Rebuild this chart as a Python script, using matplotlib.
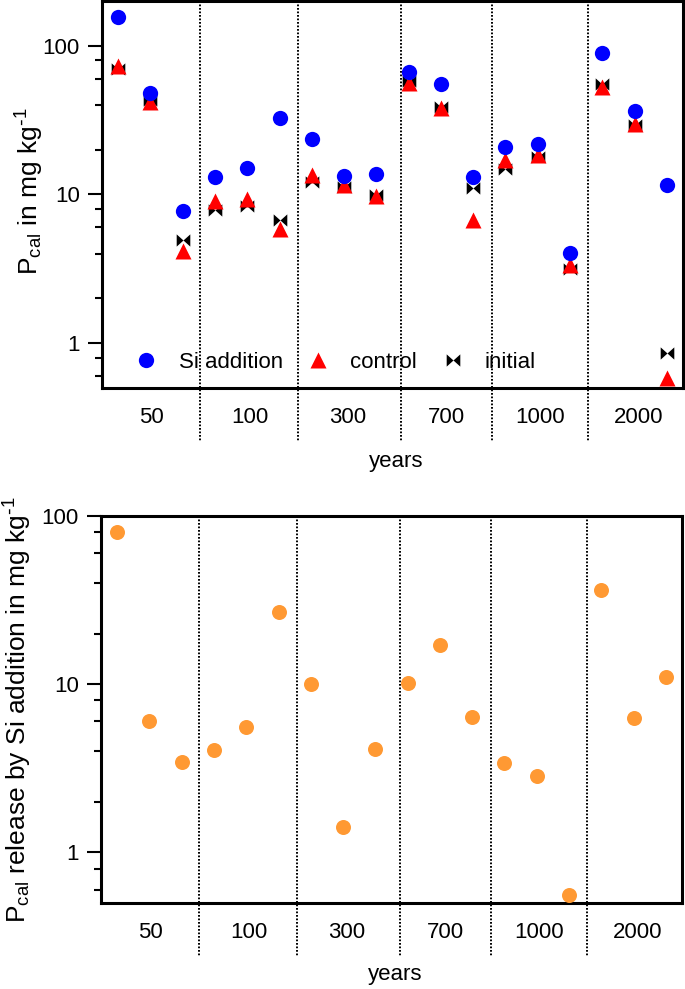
import matplotlib
matplotlib.use('Agg')
import matplotlib.pyplot as plt
from matplotlib.transforms import blended_transform_factory
from matplotlib.ticker import NullFormatter, FixedLocator
import numpy as np

plt.rcParams['font.family'] = ['Liberation Sans', 'DejaVu Sans']
plt.rcParams['mathtext.default'] = 'regular'

# ---------------- data ----------------
groups = ['50', '100', '300', '700', '1000', '2000']
si_addition = [155, 48, 7.7, 13.2, 15.0, 32.7, 23.5, 13.3, 13.8,
               67, 55.6, 13.1, 21, 21.7, 4.04, 89.8, 36.6, 11.5]
control = [72.6, 41.6, 4.2, 9.1, 9.35, 5.9, 13.6, 11.6, 9.7,
           55.8, 38.2, 6.7, 17.1, 18.3, 3.34, 53, 29.8, 0.585]
initial = [69.7, 43, 4.97, 7.9, 8.4, 6.7, 12.2, 11.2, 9.95,
           57.6, 39, 11.0, 14.9, 17.8, 3.17, 55.3, 29.4, 0.853]
release = [80.7, 6.05, 3.43, 4.05, 5.57, 26.8, 9.97, 1.42, 4.1,
           10.2, 17.2, 6.35, 3.41, 2.83, 0.56, 36.5, 6.3, 11.0]
y_major = [1, 10, 100]
y_major_labels = ['1', '10', '100']
y_minor = [0.6, 0.8, 2, 4, 6, 8, 20, 40, 60, 80]

# ---------------- layout constants ----------------
x = np.arange(1, len(si_addition) + 1)
sep_pos = [3.55, 6.56, 9.76, 12.57, 15.57]
label_pos = [2.02, 5.09, 8.10, 11.17, 14.06, 17.13]
FS = 16

fig = plt.figure(figsize=(6.85, 9.89), dpi=100)
ax1 = fig.add_axes([102 / 685, 1 - 388 / 989, 581 / 685, 387 / 989])
ax2 = fig.add_axes([101 / 685, 1 - 903 / 989, 581 / 685, 387 / 989])

bowtie = [(-1, 0.9), (0, 0), (1, 0.9), (1, -0.9), (0, 0), (-1, -0.9)]

h_si, = ax1.plot(x, si_addition, 'o', color='#0000FF', ms=11, mec='none',
                 zorder=4, label='Si addition')
h_ct, = ax1.plot(x, control, '^', color='#FF0000', ms=11, mec='none',
                 zorder=3, label='control')
h_in, = ax1.plot(x, initial, ls='none', marker=bowtie, color='black', ms=9.8,
                 mec='none', zorder=2, label='initial')

ax2.plot(x, release, 'o', color='#FF9933', ms=10.8, mec='none', zorder=3)


def style(ax, ylim, lab_y, years_y):
    ax.set_yscale('log')
    ax.set_xlim(0.5, 18.5)
    ax.set_ylim(*ylim)
    ax.set_xticks([])
    ax.yaxis.set_major_locator(FixedLocator(y_major))
    ax.set_yticklabels(y_major_labels)
    ax.yaxis.set_minor_locator(FixedLocator(y_minor))
    ax.yaxis.set_minor_formatter(NullFormatter())
    ax.tick_params(axis='y', which='major', length=10, width=1.5,
                   labelsize=FS, pad=6)
    ax.tick_params(axis='y', which='minor', length=5, width=1.5)
    for s in ax.spines.values():
        s.set_linewidth(2.2)
    tr = blended_transform_factory(ax.transData, ax.transAxes)
    for p in sep_pos:
        ax.plot([p, p], [1, -0.14], transform=tr, color='black', lw=1.4,
                ls=(0, (0.9, 0.9)), clip_on=False, zorder=1)
    for p, g in zip(label_pos, groups):
        ax.text(p, lab_y, g, transform=tr, ha='center', va='center',
                fontsize=FS)
    ax.text(0.506, years_y, 'years', transform=ax.transAxes, ha='center',
            va='center', fontsize=FS)


style(ax1, (0.5, 200), -0.0775, -0.19)
style(ax2, (0.5, 100), -0.075, -0.185)

ax1.legend(handles=[h_si, h_ct, h_in], ncol=3, loc='center left',
           bbox_to_anchor=(0.038, 0.067), frameon=False, borderpad=0,
           borderaxespad=0, handlelength=2, handletextpad=0.45,
           columnspacing=0.6, fontsize=FS)

fig.text(30 / 685, 1 - 191 / 989, r'P$_{cal}$ in mg kg$^{\text{-}1}$', rotation=90,
         ha='center', va='center', fontsize=19)
fig.text(18 / 685, 1 - 710 / 989, r'P$_{cal}$ release by Si addition in mg kg$^{\text{-}1}$',
         rotation=90, ha='center', va='center', fontsize=19)

fig.savefig('out.png', dpi=100)
